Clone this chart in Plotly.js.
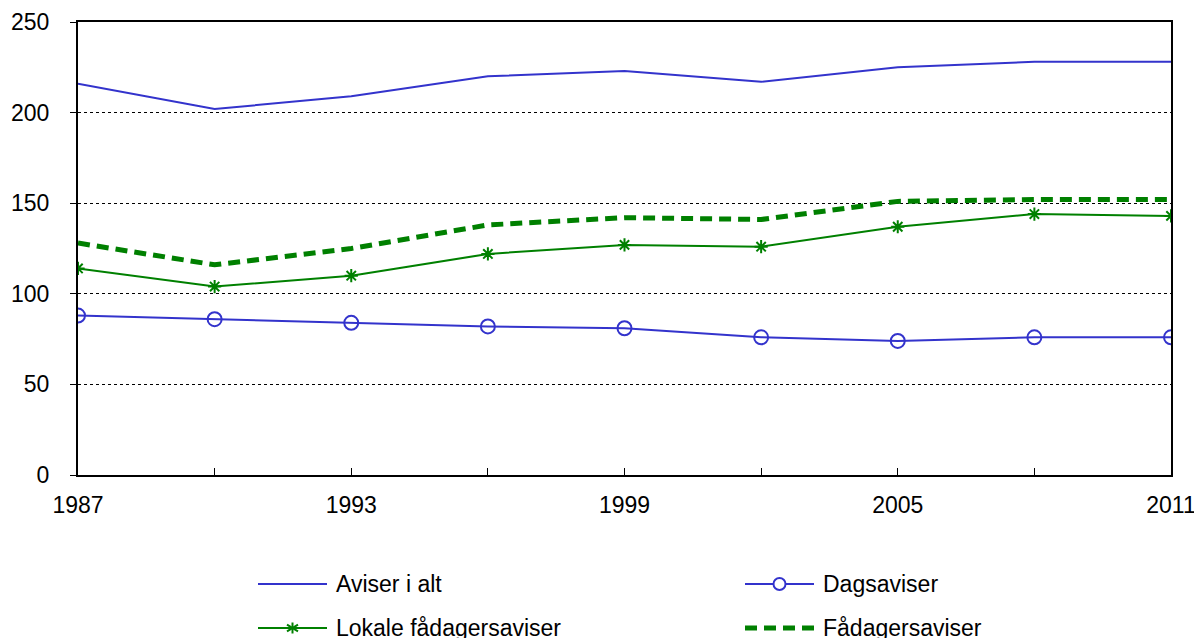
<!DOCTYPE html>
<html><head><meta charset="utf-8">
<script src="https://cdn.plot.ly/plotly-3.0.1.min.js"></script>
<style>html,body{margin:0;padding:0;background:#fff}#chart{width:1194px;height:638px}</style>
</head><body><div id="chart"></div>
<script>
const years = [1987, 1990, 1993, 1996, 1999, 2002, 2005, 2008, 2011];
const aviserIAlt = [216, 202, 209, 220, 223, 217, 225, 228, 228];
const dagsaviser = [88, 86, 84, 82, 81, 76, 74, 76, 76];
const lokaleFadagers = [114, 104, 110, 122, 127, 126, 137, 144, 143];
const fadagers = [128, 116, 125, 138, 142, 141, 151, 152, 152];
const seriesNames = ['Aviser i alt', 'Dagsaviser', 'Lokale fådagersaviser', 'Fådagersaviser'];
const xTickLabels = ['1987', '', '1993', '', '1999', '', '2005', '', '2011'];
const yTicks = [0, 50, 100, 150, 200, 250];

const blue = '#3333cc', green = '#008000';
const DASH = '12px,7px';
const traces = [
  {x: years, y: aviserIAlt, name: seriesNames[0], mode: 'lines', line: {color: blue, width: 2}},
  {x: years, y: dagsaviser, name: seriesNames[1], mode: 'lines+markers', line: {color: blue, width: 2},
   marker: {symbol: 'circle-open', size: 14, color: blue, line: {width: 2, color: blue}}},
  {x: years, y: lokaleFadagers, name: seriesNames[2], mode: 'lines+markers', line: {color: green, width: 2},
   marker: {symbol: 'asterisk-open', size: 11, color: green, line: {width: 2, color: green}}},
  {x: years, y: fadagers, name: seriesNames[3], mode: 'lines', line: {color: green, width: 5, dash: DASH}}
];

// manual legend (page-pixel layout helpers)
const M = {l: 78, r: 23, t: 22, b: 163};
const PW = 1194 - M.l - M.r, PH = 638 - M.t - M.b;
const px = v => (v - M.l) / PW;
const py = v => (638 - M.b - v) / PH;
const shapes = [], annotations = [];
const legendItems = [
  {name: seriesNames[0], x0: 258, x1: 327, tx: 334, y: 584, color: blue, kind: 'line'},
  {name: seriesNames[1], x0: 745, x1: 814, tx: 821, y: 584, color: blue, kind: 'circle'},
  {name: seriesNames[2], x0: 258, x1: 327, tx: 334, y: 628, color: green, kind: 'star'},
  {name: seriesNames[3], x0: 745, x1: 814, tx: 821, y: 628, color: green, kind: 'dash'}
];
legendItems.forEach(it => {
  const ln = {type: 'line', xref: 'paper', yref: 'paper', x0: px(it.x0), x1: px(it.x1), y0: py(it.y), y1: py(it.y),
    line: {color: it.color, width: it.kind === 'dash' ? 5 : 2, dash: it.kind === 'dash' ? DASH : 'solid'}};
  shapes.push(ln);
  const cx = (it.x0 + it.x1) / 2;
  if (it.kind === 'circle') {
    shapes.push({type: 'circle', xref: 'paper', yref: 'paper', x0: px(cx - 6), x1: px(cx + 6), y0: py(it.y - 6), y1: py(it.y + 6),
      fillcolor: '#fff', line: {color: it.color, width: 2}});
  }
  if (it.kind === 'star') {
    const r = 5.5;
    [[0, -r, 0, r], [-r, -r * 0.6, r, r * 0.6], [-r, r * 0.6, r, -r * 0.6]].forEach(s => {
      shapes.push({type: 'line', xref: 'paper', yref: 'paper', x0: px(cx + s[0]), x1: px(cx + s[2]),
        y0: py(it.y + s[1]), y1: py(it.y + s[3]), line: {color: it.color, width: 2}});
    });
  }
  annotations.push({xref: 'paper', yref: 'paper', x: px(it.tx), y: py(it.y), xanchor: 'left', yanchor: 'middle',
    text: it.name, showarrow: false, font: {size: 23, color: '#000'}});
});

const layout = {
  width: 1194, height: 638,
  margin: M,
  paper_bgcolor: '#fff', plot_bgcolor: '#fff',
  font: {family: 'Arial, "Liberation Sans", sans-serif', size: 23, color: '#000'},
  showlegend: false,
  xaxis: {range: [1987, 2011], tickvals: years, ticktext: xTickLabels, ticks: 'inside', ticklen: 7,
    tickcolor: '#000', tickwidth: 1, showgrid: false, zeroline: false, showline: true, linecolor: '#000',
    linewidth: 2, mirror: true, ticklabelstandoff: 8, ticklabeloverflow: 'allow', automargin: false},
  yaxis: {range: [0, 250], tickvals: yTicks, ticks: 'outside', ticklen: 6, tickcolor: '#000', tickwidth: 1,
    showgrid: true, gridcolor: '#000', griddash: 'dot', gridwidth: 1, zeroline: false, showline: true,
    linecolor: '#000', linewidth: 2, mirror: true, ticklabelstandoff: 16, automargin: false},
  shapes: shapes, annotations: annotations
};
Plotly.newPlot('chart', traces, layout, {displayModeBar: false, staticPlot: true});
</script></body></html>
